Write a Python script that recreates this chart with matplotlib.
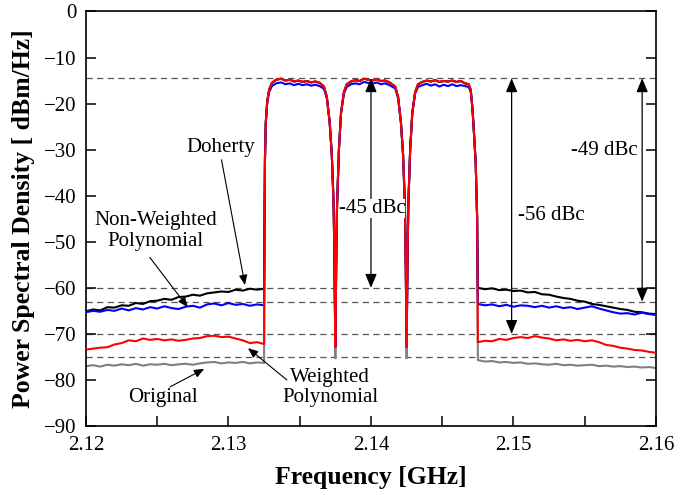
import numpy as np
import matplotlib
matplotlib.use('Agg')
import matplotlib.pyplot as plt
from matplotlib.patches import ArrowStyle

plt.rcParams['font.family'] = ['Liberation Serif', 'DejaVu Serif']

# adjacent channel floors, left of the carriers
left_f = [2.1200, 2.1205, 2.1210, 2.1215, 2.1220, 2.1225, 2.1230, 2.1235, 2.1240,
          2.1245, 2.1250, 2.1255, 2.1260, 2.1265, 2.1270, 2.1275, 2.1280, 2.1285,
          2.1290, 2.1295, 2.1300, 2.1305, 2.1310, 2.1315, 2.1320, 2.1325]
doherty_left = [-65.1, -64.7, -64.9, -64.2, -64.3, -63.8, -63.9, -63.3, -63.5, -62.9,
                -62.8, -62.4, -62.6, -62.0, -61.9, -61.5, -61.7, -61.2, -61.0, -60.8,
                -60.9, -60.4, -60.6, -60.2, -60.4, -60.2]
nonweighted_left = [-65.3, -65.0, -65.2, -64.8, -65.0, -64.5, -64.9, -64.4, -64.7, -64.2,
                    -64.5, -64.0, -64.4, -64.6, -64.1, -63.9, -64.3, -63.6, -63.4, -63.8,
                    -63.3, -63.7, -63.5, -63.9, -63.6, -63.8]
weighted_left = [-73.4, -73.2, -73.0, -72.9, -72.3, -72.0, -71.4, -71.6, -71.0, -71.3,
                 -71.1, -71.4, -71.2, -71.5, -71.3, -71.0, -70.9, -70.5, -70.4, -70.7,
                 -70.6, -71.0, -71.4, -72.0, -71.8, -72.2]
original_left = [-77.0, -76.8, -77.1, -76.7, -76.9, -76.6, -76.8, -76.5, -76.9, -76.6,
                 -76.7, -76.5, -76.8, -76.6, -76.5, -76.7, -76.4, -76.2, -76.1, -76.4,
                 -76.2, -76.3, -76.1, -76.4, -76.2, -76.3]

# adjacent channel floors, right of the carriers
right_f = [2.1475, 2.1480, 2.1485, 2.1490, 2.1495, 2.1500, 2.1505, 2.1510, 2.1515,
           2.1520, 2.1525, 2.1530, 2.1535, 2.1540, 2.1545, 2.1550, 2.1555, 2.1560,
           2.1565, 2.1570, 2.1575, 2.1580, 2.1585, 2.1590, 2.1595, 2.1600]
doherty_right = [-60.0, -60.3, -60.1, -60.5, -60.4, -60.7, -60.6, -61.0, -60.9, -61.4,
                 -61.5, -61.9, -62.2, -62.4, -62.8, -63.0, -63.5, -63.7, -64.0, -64.3,
                 -64.6, -64.8, -65.2, -65.3, -65.6, -65.7]
nonweighted_right = [-63.5, -63.8, -63.6, -64.0, -63.7, -64.1, -63.8, -63.9, -64.2, -63.9,
                     -64.3, -64.0, -64.4, -64.2, -64.6, -64.3, -64.0, -64.5, -64.9, -65.3,
                     -65.6, -65.5, -65.8, -65.4, -65.7, -65.9]
weighted_right = [-71.8, -71.5, -71.6, -71.1, -71.3, -70.9, -70.7, -70.9, -70.5, -70.8,
                  -71.0, -71.4, -71.2, -71.5, -71.3, -71.6, -71.4, -71.8, -72.4, -72.6,
                  -73.0, -73.2, -73.5, -73.6, -73.9, -74.1]
original_right = [-75.7, -76.0, -75.9, -76.2, -76.1, -76.3, -76.2, -76.5, -76.4, -76.6,
                  -76.7, -76.5, -76.8, -76.7, -76.9, -76.8, -76.7, -77.0, -76.9, -77.1,
                  -77.0, -77.2, -77.1, -77.3, -77.2, -77.4]

# three carriers (notch points get each trace's own depth)
notch_f = [2.1375, 2.1425]
carrier_f = [2.13252, 2.13256, 2.13262, 2.13272, 2.13285, 2.13305, 2.13335,
             2.1337, 2.1340, 2.1343, 2.1346, 2.1349, 2.1352, 2.1355, 2.1358, 2.1361, 2.1364,
             2.13670, 2.13690, 2.13710, 2.13725, 2.13738, 2.13744, 2.1375,
             2.13756, 2.13762, 2.13775, 2.1379, 2.1381, 2.1383,
             2.1386, 2.1389, 2.1392, 2.1395, 2.1398, 2.1401, 2.1404, 2.1407, 2.1410, 2.1413,
             2.14170, 2.14190, 2.14210, 2.14225, 2.14238, 2.14244, 2.1425,
             2.14256, 2.14262, 2.14275, 2.1429, 2.1431, 2.1433,
             2.1436, 2.1439, 2.1442, 2.1445, 2.1448, 2.1451, 2.1454, 2.1457, 2.1460, 2.1463, 2.1466,
             2.14685, 2.14700, 2.14712, 2.14722, 2.14735, 2.14745]
carrier_db = [-50, -32, -24, -19.5, -17, -15.5, -14.8,
              -14.6, -15.0, -14.8, -15.2, -15.0, -15.3, -15.1, -15.4, -15.2, -15.5,
              -16.3, -18.5, -24, -31, -42, -55, -73,
              -55, -42, -30, -22, -17.5, -15.8,
              -15.2, -14.9, -15.1, -14.6, -14.8, -15.0, -14.7, -15.1, -15.0, -15.4,
              -16.3, -18.5, -24, -31, -42, -55, -73,
              -55, -42, -30, -22, -17.5, -15.8,
              -15.3, -15.0, -15.2, -14.9, -15.3, -15.1, -15.2, -15.0, -15.3, -15.1, -15.6,
              -15.8, -17, -21, -26, -33, -45]
carrier_blue_db = [-50, -32, -24, -19.8, -17.5, -16.2, -15.6,
                   -15.4, -15.8, -15.6, -16.0, -15.7, -16.0, -15.8, -16.1, -15.9, -16.2,
                   -16.8, -18.8, -24, -31, -42, -55, -73,
                   -55, -42, -30, -22, -17.8, -16.4,
                   -15.8, -15.6, -15.8, -15.3, -15.5, -15.7, -15.4, -15.8, -15.6, -16.0,
                   -16.7, -18.8, -24, -31, -42, -55, -73,
                   -55, -42, -30, -22, -17.8, -16.4,
                   -16.0, -15.7, -16.1, -15.8, -16.3, -15.9, -16.2, -15.8, -16.2, -16.0, -16.2,
                   -16.4, -17.4, -21, -26, -33, -45]

notch_red = -72.8
notch_gray = -75.3

dash_levels = [-14.5, -60, -63, -70, -75]


def build(left, carrier, right, notch):
    c = np.array(carrier, dtype=float)
    c[np.isin(carrier_f, notch_f)] = notch
    f = np.concatenate([left_f, carrier_f, right_f])
    v = np.concatenate([left, c, right])
    return f, v


fig = plt.figure(figsize=(6.9, 4.95), dpi=100)
ax = fig.add_axes([0.1246, 0.1394, 0.8261, 0.8374])

for lv in dash_levels:
    ax.axhline(lv, color='#555555', lw=0.9, ls=(0, (5, 3.5)), zorder=1)

f, v = build(original_left, carrier_db, original_right, notch_gray)
ax.plot(f, v, color='#808080', lw=1.5, zorder=2)
f, v = build(doherty_left, carrier_db, doherty_right, notch_red)
ax.plot(f, v, color='black', lw=1.5, zorder=3)
f, v = build(nonweighted_left, carrier_blue_db, nonweighted_right, notch_red)
ax.plot(f, v, color='#0000ff', lw=1.5, zorder=4)
f, v = build(weighted_left, carrier_db, weighted_right, notch_red)
ax.plot(f, v, color='#ff0000', lw=1.5, zorder=5)

ax.set_xlim(2.12, 2.16)
ax.set_ylim(-90, 0)
ax.set_xticks([2.12, 2.13, 2.14, 2.15, 2.16])
ax.set_xticklabels(['2.12', '2.13', '2.14', '2.15', '2.16'])
ax.set_xticks([2.125, 2.135, 2.145, 2.155], minor=True)
ax.set_yticks(np.arange(-90, 1, 10))
ax.tick_params(axis='both', which='both', direction='in', length=7, width=1.1,
               labelsize=15, pad=7)
ax.tick_params(axis='y', right=True)
for s in ax.spines.values():
    s.set_linewidth(1.2)

ax.set_xlabel('Frequency [GHz]', fontsize=18.5, fontweight='bold', labelpad=8)
ax.set_ylabel('Power Spectral Density [ dBm/Hz]', fontsize=18.5, fontweight='bold',
              labelpad=6)

# dBc arrows
big = ArrowStyle('<|-|>', head_length=0.6, head_width=0.25)
for x, lo in [(2.14, -60), (2.14987, -70), (2.15903, -63)]:
    ax.annotate('', xy=(x, lo), xytext=(x, -14.5),
                arrowprops=dict(arrowstyle=big, color='black', lw=0.9,
                                mutation_scale=14, shrinkA=0, shrinkB=0), zorder=6)
ax.text(2.14007, -42.7, '-45 dBc', fontsize=15, ha='center', va='center',
        bbox=dict(facecolor='white', edgecolor='none', pad=0), zorder=7)
ax.text(2.1503, -44.2, '-56 dBc', fontsize=15, ha='left', va='center', zorder=7)
ax.text(2.1587, -30.1, '-49 dBc', fontsize=15, ha='right', va='center', zorder=7)

# trace labels
small = ArrowStyle('-|>', head_length=0.6, head_width=0.25)
labels = [('Doherty', (2.12947, -29.6), (2.12951, -32.2), (2.13116, -59.4)),
          ('Non-Weighted\nPolynomial', (2.1249, -47.7), (2.12448, -53.4), (2.12714, -64.2)),
          ('Weighted\nPolynomial', (2.13712, -81.7), (2.1341, -80.0), (2.13137, -73.1)),
          ('Original', (2.12537, -83.9), (2.1259, -81.5), (2.1283, -77.6))]
for txt, pos, tail, head in labels:
    ax.text(pos[0], pos[1], txt, fontsize=15, ha='center', va='center',
            linespacing=1.1, zorder=7)
    ax.annotate('', xy=head, xytext=tail,
                arrowprops=dict(arrowstyle=small, color='black', lw=0.8,
                                mutation_scale=10, shrinkA=0, shrinkB=0), zorder=6)

fig.savefig('out.png', dpi=100)
